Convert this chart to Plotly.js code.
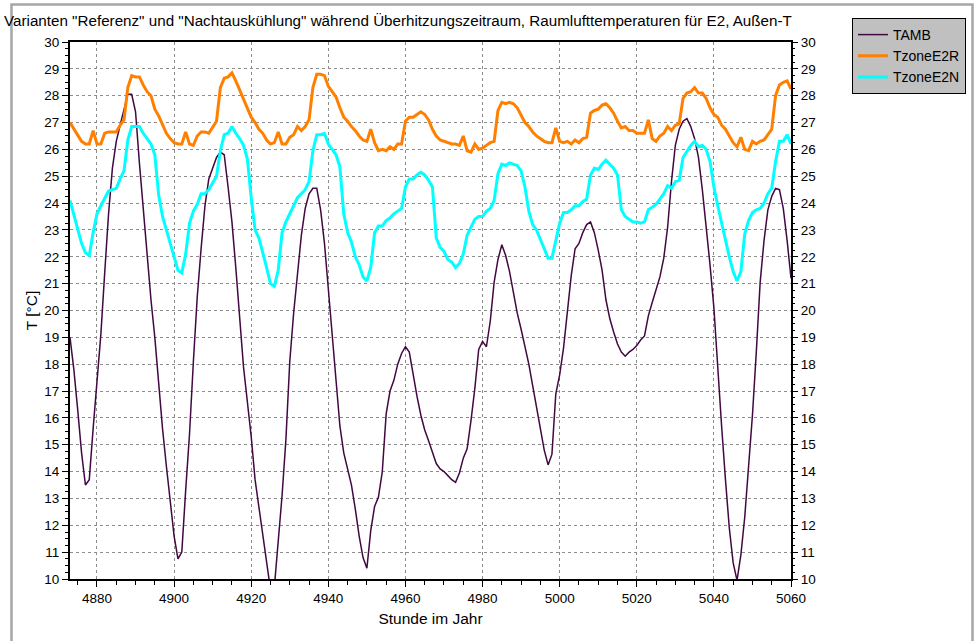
<!DOCTYPE html>
<html>
<head>
<meta charset="utf-8">
<script src="https://cdn.plot.ly/plotly-3.0.1.min.js"></script>
<style>html,body{margin:0;padding:0;background:#fff;}#chart{width:975px;height:641px;}</style>
</head>
<body>
<div id="chart"></div>
<script>
// Hours 4873 .. 5060 (hourly)
const hourStart = 4873;
const hourEnd = 5060;

const TAMB = [
  19.0, 17.8, 16.3, 14.7, 13.5, 13.7, 15.6,
  17.2, 19.1, 21.4, 23.6, 25.3, 26.3, 26.9, 27.5, 28.05, 28.05,
  27.4, 25.5, 23.7, 22.0, 20.4, 19.0, 17.2, 15.6, 14.2, 12.9,
  11.6, 10.75, 11.0, 13.3, 15.4, 18.1, 20.5, 22.3, 23.9, 24.9,
  25.3, 25.7, 25.9, 25.8, 24.6, 23.3, 21.6, 19.7, 17.9, 16.6,
  15.3, 13.7, 12.65, 11.7, 10.5, 9.6, 9.7, 11.3, 13.1, 15.2,
  18.1, 19.9, 21.5, 22.8, 23.8, 24.35, 24.55, 24.55, 23.75, 22.5,
  20.8, 19.0, 17.2, 15.7, 14.7, 14.1, 13.5, 12.6, 11.6, 10.8,
  10.4, 11.8, 12.7, 13.05, 14.0, 16.15, 17.0, 17.4, 18.0, 18.4,
  18.65, 18.45, 17.6, 16.8, 16.1, 15.55, 15.15, 14.75, 14.3, 14.1,
  14.0, 13.85, 13.7, 13.6, 13.95, 14.5, 14.85, 15.9, 17.1, 18.55,
  18.85, 18.65, 19.6, 21.05, 21.9, 22.45, 22.05, 21.45, 20.7, 19.9,
  19.3, 18.7, 18.0, 17.2, 16.4, 15.6, 14.8, 14.25, 14.65, 16.9,
  17.6, 18.6, 19.9, 21.3, 22.3, 22.5, 22.9, 23.2, 23.3, 22.9,
  22.25, 21.5, 20.4, 19.7, 19.2, 18.75, 18.45, 18.3, 18.45, 18.55,
  18.7, 18.9, 19.05, 19.8, 20.3, 20.8, 21.25, 21.95, 23.1, 24.8,
  26.15, 26.75, 27.05, 27.15, 26.85, 26.4, 25.7, 24.5, 23.2, 21.7,
  20.1, 17.8, 15.7, 13.7, 11.9, 10.6, 9.95, 10.9, 12.3, 14.2,
  16.1, 18.45, 21.05, 22.6, 23.75, 24.25, 24.55, 24.5, 23.8, 22.6, 21.2
];

const TzoneE2R = [
  27.0, 26.75, 26.5, 26.3, 26.2, 26.2, 26.7,
  26.2, 26.2, 26.6, 26.65, 26.65, 26.65, 26.9, 27.1, 28.3, 28.75,
  28.7, 28.7, 28.4, 28.15, 28.0, 27.5, 27.25, 26.9, 26.6, 26.4,
  26.25, 26.2, 26.2, 26.65, 26.2, 26.15, 26.5, 26.65, 26.65, 26.6,
  26.85, 27.05, 28.3, 28.65, 28.7, 28.85, 28.55, 28.2, 27.85, 27.55,
  27.2, 27.0, 26.75, 26.6, 26.35, 26.2, 26.25, 26.65, 26.2, 26.2,
  26.45, 26.55, 26.85, 26.7, 26.85, 27.1, 28.3, 28.8, 28.8, 28.75,
  28.35, 28.15, 27.95, 27.55, 27.2, 27.05, 26.85, 26.7, 26.5, 26.35,
  26.3, 26.75, 26.25, 25.95, 26.0, 25.95, 26.1, 26.0, 26.2, 26.2,
  27.05, 27.2, 27.2, 27.3, 27.4, 27.3, 27.1, 26.75, 26.5, 26.35,
  26.3, 26.25, 26.2, 26.2, 26.15, 26.5, 25.95, 25.9, 26.2, 26.0,
  26.05, 26.15, 26.25, 26.3, 27.45, 27.75, 27.7, 27.75, 27.7, 27.55,
  27.3, 27.0, 26.85, 26.65, 26.5, 26.4, 26.3, 26.25, 26.25, 26.8,
  26.3, 26.25, 26.3, 26.2, 26.35, 26.25, 26.4, 26.45, 27.35, 27.45,
  27.5, 27.65, 27.7, 27.55, 27.35, 27.05, 26.8, 26.85, 26.7, 26.7,
  26.6, 26.6, 26.6, 27.1, 26.4, 26.3, 26.5, 26.6, 26.85, 26.7,
  26.9, 26.95, 27.9, 28.1, 28.15, 28.3, 28.1, 28.1, 27.9, 27.55,
  27.3, 27.2, 26.9, 26.75, 26.5, 26.25, 26.1, 26.45, 26.0, 25.95,
  26.3, 26.2, 26.3, 26.35, 26.55, 26.75, 28.0, 28.4, 28.5, 28.55, 28.25
];

const TzoneE2N = [
  24.1, 23.6, 23.1, 22.5, 22.15, 22.05, 22.9,
  23.6, 23.9, 24.2, 24.45, 24.5, 24.55, 24.9, 25.2, 26.35, 26.85,
  26.85, 26.85, 26.6, 26.4, 26.2, 25.8, 24.3, 23.5, 23.0, 22.5,
  21.9, 21.5, 21.4, 22.1, 23.25, 23.7, 23.95, 24.35, 24.35, 24.5,
  24.75, 25.0, 25.95, 26.55, 26.6, 26.85, 26.6, 26.4, 26.15, 25.65,
  24.2, 23.0, 22.7, 22.2, 21.6, 21.0, 20.9, 21.5, 22.9, 23.3,
  23.6, 23.95, 24.2, 24.35, 24.5, 24.8, 25.95, 26.55, 26.55, 26.6,
  26.2, 26.0, 25.8, 25.35, 23.6, 22.9, 22.55, 22.0, 21.7, 21.25,
  21.1, 21.6, 22.9, 23.15, 23.15, 23.35, 23.45, 23.6, 23.7, 23.8,
  24.6, 24.9, 24.9, 25.05, 25.15, 25.05, 24.85, 24.6, 22.7, 22.35,
  22.2, 21.9, 21.8, 21.6, 21.75, 22.1, 22.8, 23.1, 23.4, 23.5,
  23.5, 23.7, 23.8, 24.1, 25.1, 25.45, 25.4, 25.5, 25.45, 25.4,
  25.2, 24.6, 23.7, 23.2, 23.0, 22.65, 22.35, 21.95, 21.95, 22.6,
  23.25, 23.65, 23.65, 23.75, 23.9, 23.9, 24.05, 24.15, 25.05, 25.3,
  25.25, 25.45, 25.6, 25.45, 25.3, 25.05, 23.75, 23.5, 23.4, 23.3,
  23.3, 23.25, 23.3, 23.75, 23.85, 23.95, 24.15, 24.35, 24.65, 24.55,
  24.8, 24.85, 25.7, 25.95, 26.15, 26.3, 26.1, 26.15, 26.0, 25.55,
  24.6, 23.9, 23.25, 22.6, 22.0, 21.45, 21.1, 21.45, 22.85, 23.35,
  23.65, 23.75, 23.8, 24.0, 24.35, 24.55, 25.55, 26.3, 26.3, 26.55, 26.2
];

const seriesNames = ["TAMB", "TzoneE2R", "TzoneE2N"];
const titleText = 'Varianten "Referenz" und "Nachtauskühlung" während Überhitzungszeitraum, Raumlufttemperaturen für E2, Außen-T';
const xTitle = "Stunde im Jahr";
const yTitle = "T [°C]";

const hours = [];
for (let h = hourStart; h <= hourEnd; h++) hours.push(h);

const FONT = '"Liberation Sans", Arial, sans-serif';

const traces = [
  {x: hours, y: TAMB, name: seriesNames[0], type: 'scatter', mode: 'lines',
   line: {color: '#420842', width: 1.5}},
  {x: hours, y: TzoneE2R, name: seriesNames[1], type: 'scatter', mode: 'lines',
   line: {color: '#ff8000', width: 3}},
  {x: hours, y: TzoneE2N, name: seriesNames[2], type: 'scatter', mode: 'lines',
   line: {color: '#00ffff', width: 3}},
  // carrier for the mirrored right-hand temperature axis (not visible)
  {x: hours, y: TAMB, yaxis: 'y2', type: 'scatter', mode: 'lines',
   line: {color: 'rgba(0,0,0,0)', width: 0}, showlegend: false, hoverinfo: 'skip'}
];

const L = 70, R = 791, T = 42, B = 579;
const W = 975, H = 641;
const px = v => (v - L) / (R - L);
const py = v => (B - v) / (B - T);

const tickFont = {family: FONT, size: 13.5, color: '#000'};

const layout = {
  width: W, height: H,
  margin: {l: L, r: W - R, t: T, b: H - B, pad: 0},
  paper_bgcolor: '#ffffff',
  plot_bgcolor: '#ffffff',
  font: {family: FONT, size: 13, color: '#000'},
  showlegend: true,
  title: {
    text: titleText,
    xref: 'container', yref: 'container',
    x: 4 / W, xanchor: 'left',
    y: 1 - 21 / H, yanchor: 'middle',
    font: {family: FONT, size: 15.2, color: '#000'}
  },
  xaxis: {
    range: [hourStart, hourEnd],
    tick0: 4880, dtick: 20,
    ticks: 'outside', ticklen: 6, tickwidth: 1, tickcolor: '#000',
    showline: true, linecolor: '#000', linewidth: 2, mirror: true,
    showgrid: true, gridcolor: '#8c8c8c', gridwidth: 1, griddash: 'dot',
    zeroline: false,
    minor: {dtick: 5, tick0: 4875, ticks: 'outside', ticklen: 4, tickcolor: '#000', showgrid: false},
    tickfont: tickFont,
    title: {text: xTitle, font: {family: FONT, size: 15.5, color: '#000'}, standoff: 8},
    automargin: false
  },
  yaxis: {
    range: [10, 30],
    tick0: 10, dtick: 1,
    ticks: 'outside', ticklen: 6, tickwidth: 1, tickcolor: '#000',
    showline: true, linecolor: '#000', linewidth: 2, mirror: true,
    showgrid: true, gridcolor: '#8c8c8c', gridwidth: 1, griddash: 'dot',
    zeroline: false,
    minor: {dtick: 0.25, ticks: 'outside', ticklen: 3, tickcolor: '#000', showgrid: false},
    tickfont: tickFont,
    title: {text: yTitle, font: {family: FONT, size: 15.5, color: '#000'}, standoff: 3},
    automargin: false
  },
  yaxis2: {
    overlaying: 'y', side: 'right', anchor: 'x',
    range: [10, 30],
    tick0: 10, dtick: 1,
    ticks: 'outside', ticklen: 6, tickwidth: 1, tickcolor: '#000',
    showline: false, showgrid: false, zeroline: false,
    minor: {dtick: 0.25, ticks: 'outside', ticklen: 3, tickcolor: '#000', showgrid: false},
    tickfont: tickFont,
    automargin: false
  },
  legend: {
    xref: 'container', yref: 'container',
    x: 852 / W, y: 1 - 18 / H, xanchor: 'left', yanchor: 'top',
    bgcolor: '#c0c0c0', bordercolor: '#000', borderwidth: 1,
    font: {family: FONT, size: 14, color: '#000'},
    itemwidth: 30, tracegroupgap: 0
  },
  shapes: [
    {type: 'rect', xref: 'paper', yref: 'paper',
     x0: px(11.5), x1: px(972.5), y0: py(660), y1: py(4.5),
     line: {color: '#a6a6a6', width: 2.5}, fillcolor: 'rgba(0,0,0,0)', layer: 'below'}
  ]
};

Plotly.newPlot('chart', traces, layout, {displayModeBar: false, staticPlot: true});
</script>
</body>
</html>
